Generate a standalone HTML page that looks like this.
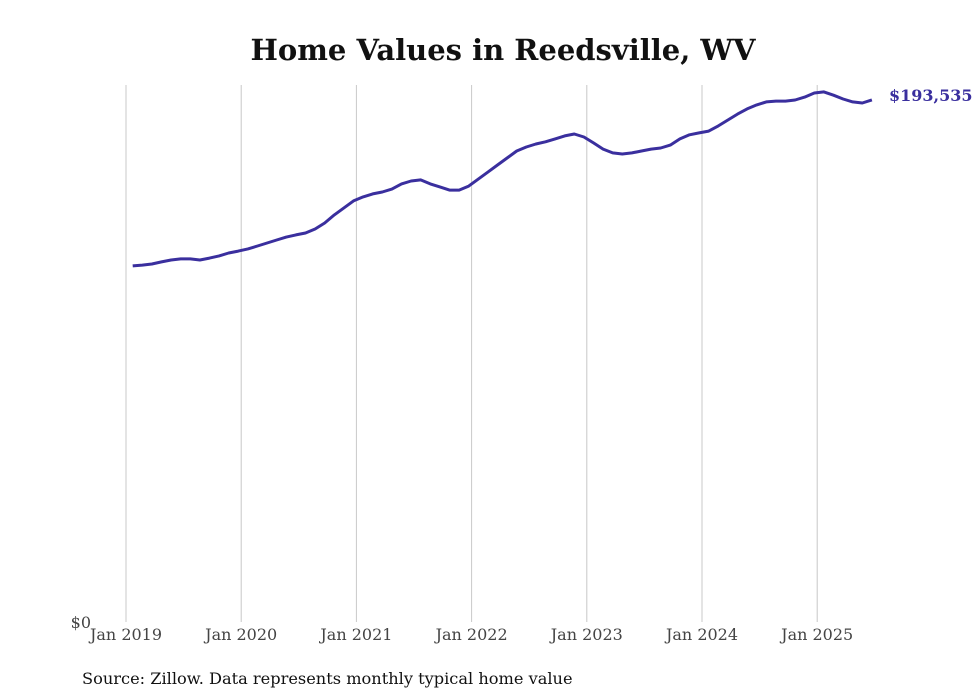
<!DOCTYPE html>
<html><head><meta charset="utf-8"><style>
body{margin:0;background:#fff;}
svg{display:block;font-family:"DejaVu Serif","Liberation Serif",serif;}
</style></head><body>
<svg id="chart" width="980" height="699">
<text x="503" y="60" text-anchor="middle" font-size="29" font-weight="bold" fill="#111">Home Values in Reedsville, WV</text>
<g id="grid"></g>
<g id="xticks"></g>
<text x="91" y="628" text-anchor="end" font-size="16" fill="#444">$0</text>
<path id="line" fill="none" stroke="#3a2f9e" stroke-width="3" stroke-linejoin="round"></path>
<text id="endlabel" font-size="16" font-weight="bold" fill="#3a2f9e"></text>
<text x="82" y="684" font-size="16.2" fill="#111">Source: Zillow. Data represents monthly typical home value</text>
</svg>
<script>
const tickLabels=["Jan 2019","Jan 2020","Jan 2021","Jan 2022","Jan 2023","Jan 2024","Jan 2025"];
const startMonth=0.7; // ~Feb 2019 (months after Jan 2019)
const values=[132.0,132.3,132.7,133.5,134.2,134.6,134.6,134.2,134.9,135.7,136.8,137.5,138.3,139.4,140.5,141.6,142.7,143.5,144.2,145.7,147.9,150.9,153.5,156.1,157.6,158.7,159.4,160.5,162.4,163.5,163.9,162.4,161.3,160.1,160.1,161.6,164.2,166.8,169.4,172.0,174.6,176.1,177.2,178.0,179.1,180.2,180.9,179.8,177.6,175.3,173.9,173.5,173.9,174.6,175.3,175.7,176.8,179.1,180.6,181.3,182.0,183.9,186.1,188.3,190.2,191.7,192.8,193.1,193.1,193.5,194.6,196.1,196.5,195.3,193.9,192.8,192.4,193.535];
const x=m=>126+m*(115.2/12);
const y=v=>622-v*2.6975;
const svg=document.getElementById('chart');
const NS="http://www.w3.org/2000/svg";
tickLabels.forEach((t,i)=>{
  const l=document.createElementNS(NS,'line');
  const xx=x(i*12);
  l.setAttribute('x1',xx);l.setAttribute('x2',xx);l.setAttribute('y1',85);l.setAttribute('y2',622);
  l.setAttribute('stroke','#c8c8c8');l.setAttribute('stroke-width','1');
  
  
  document.getElementById('grid').appendChild(l);
  const tx=document.createElementNS(NS,'text');
  tx.setAttribute('x',xx);tx.setAttribute('y',640);tx.setAttribute('text-anchor','middle');
  tx.setAttribute('font-size','16');tx.setAttribute('fill','#444');tx.textContent=t;
  
  
  document.getElementById('xticks').appendChild(tx);
});
let d='';
values.forEach((v,i)=>{d+=(i?'L':'M')+x(startMonth+i).toFixed(1)+','+y(v).toFixed(1);});
document.getElementById('line').setAttribute('d',d);
const last=values[values.length-1];
const el=document.getElementById('endlabel');
el.setAttribute('x',889);
el.setAttribute('y',y(last)+1);
el.textContent='$'+Math.round(last*1000).toLocaleString('en-US');
</script>
</body></html>
